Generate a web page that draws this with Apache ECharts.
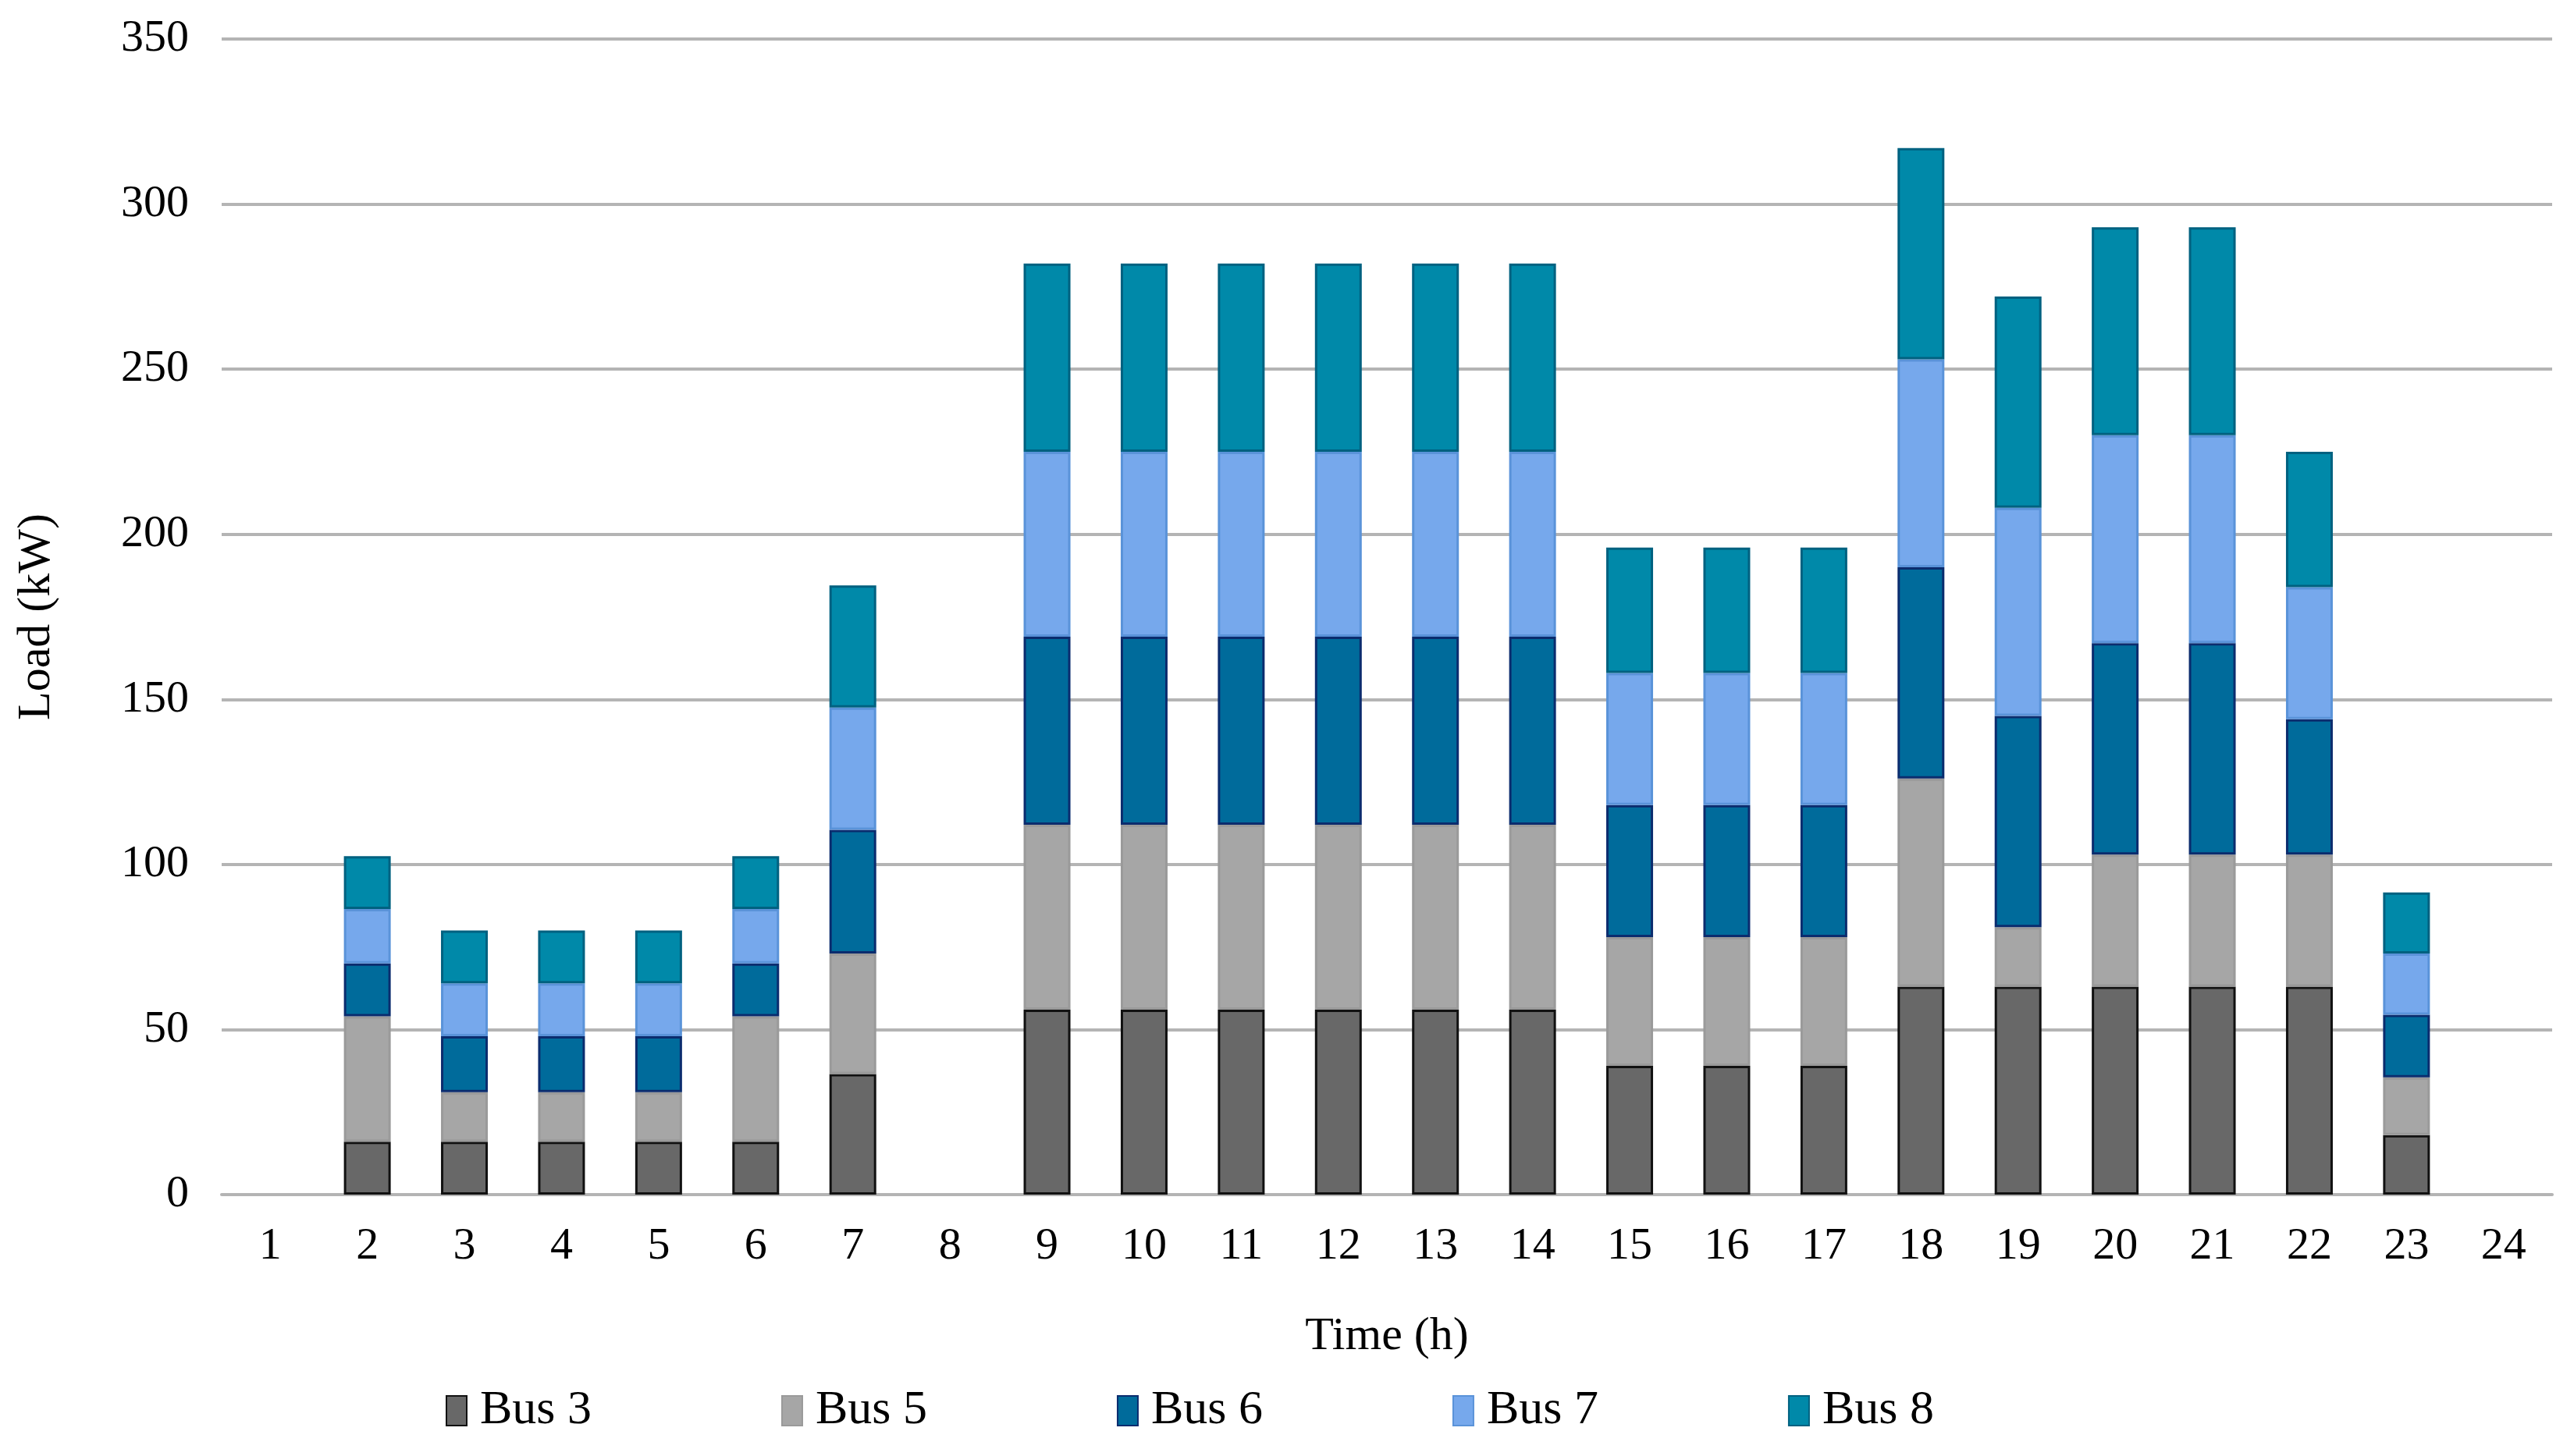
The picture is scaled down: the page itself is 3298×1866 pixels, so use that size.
<!DOCTYPE html>
<html>
<head>
<meta charset="utf-8">
<script src="https://cdn.jsdelivr.net/npm/echarts@6/dist/echarts.min.js"></script>
<style>
html,body{margin:0;padding:0;background:#fff;}
#chart{width:3298px;height:1866px;}
</style>
</head>
<body>
<div id="chart"></div>
<script>
const hours = ['1','2','3','4','5','6','7','8','9','10','11','12','13','14','15','16','17','18','19','20','21','22','23','24'];
const bus3 = [0,16,16,16,16,16,36.5,0,56,56,56,56,56,56,39,39,39,63,63,63,63,63,18,0];
const bus5 = [0,38,15,15,15,38,36.5,0,56,56,56,56,56,56,39,39,39,63,18,40,40,40,17.5,0];
const bus6 = [0,16,17,17,17,16,37.5,0,57,57,57,57,57,57,40,40,40,64,64,64,64,41,19,0];
const bus7 = [0,16.5,16,16,16,16.5,37,0,56,56,56,56,56,56,40,40,40,63,63,63,63,40,18.5,0];
const bus8 = [0,16,16,16,16,16,37,0,57,57,57,57,57,57,38,38,38,64,64,63,63,41,18.5,0];
const seriesNames = ['Bus 3','Bus 5','Bus 6','Bus 7','Bus 8'];
const yTicks = [0,50,100,150,200,250,300,350];

const fills = ['#686868','#a6a6a6','#006b9b','#76a8ec','#0089a9'];
const borders = ['#111111','#9a9a9a','#0b2c6e','#5a93d9','#006180'];
const allData = [bus3,bus5,bus6,bus7,bus8];

const font = 'Liberation Serif';
const chart = echarts.init(document.getElementById('chart'));
chart.setOption({
  backgroundColor:'#ffffff',
  animation:false,
  grid:{left:284,right:28,top:50,bottom:335,containLabel:false},
  legend:{
    data:seriesNames,
    bottom:22,
    left:566,
    itemWidth:26,
    itemHeight:38,
    itemGap:243,
    textStyle:{fontFamily:font,fontSize:62,color:'#000',padding:[0,0,0,12]},
    icon:'rect'
  },
  xAxis:{
    type:'category',
    data:hours,
    name:'Time (h)',
    nameLocation:'middle',
    nameGap:152,
    nameTextStyle:{fontFamily:font,fontSize:60,color:'#000'},
    axisLine:{lineStyle:{color:'#b4b4b4',width:4}},
    axisTick:{show:false},
    axisLabel:{fontFamily:font,fontSize:58,color:'#000',margin:38}
  },
  yAxis:{
    type:'value',
    min:0,max:350,interval:50,
    name:'Load (kW)',
    nameLocation:'middle',
    nameGap:207,
    nameTextStyle:{fontFamily:font,fontSize:60,color:'#000'},
    axisLine:{show:false},
    axisTick:{show:false},
    axisLabel:{fontFamily:font,fontSize:58,color:'#000',margin:42},
    splitLine:{lineStyle:{color:'#b4b4b4',width:4}}
  },
  series:seriesNames.map((n,i)=>({
    name:n,
    type:'bar',
    stack:'load',
    barWidth:60,
    data:allData[i].map(v=>v===0?'-':v),
    itemStyle:{color:fills[i],borderColor:borders[i],borderWidth:3}
  }))
});
</script>
</body>
</html>
